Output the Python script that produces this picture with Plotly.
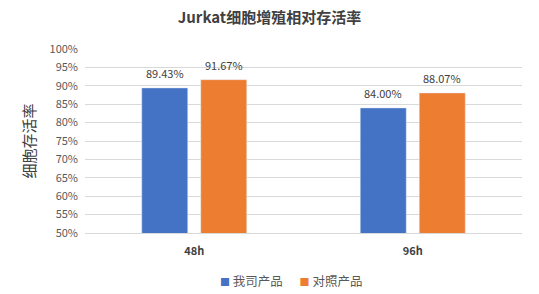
import plotly.graph_objects as go

categories = ["48h", "96h"]
series_names = ["我司产品", "对照产品"]
ours = [89.43, 84.00]
control = [91.67, 88.07]
colors = ["#4472C4", "#ED7D31"]
y_ticks = list(range(50, 101, 5))

font_family = "Noto Sans CJK SC, Noto Sans, sans-serif"

fig = go.Figure()
offsets = [-29.5, 29.5]
for name, vals, c, off in zip(series_names, [ours, control], colors, offsets):
    fig.add_trace(go.Bar(
        x=categories, y=vals, name=name, marker_color=c, showlegend=False,
    ))
    for cat, v in zip(categories, vals):
        fig.add_annotation(
            x=cat, y=v, xref="x", yref="y", text=f"{v:.2f}%", showarrow=False,
            xshift=off, yshift=15, yanchor="middle",
            font=dict(size=11, color="#404040", family=font_family),
        )

# compact legend as rich text
legend_text = "&nbsp;&nbsp;&nbsp;&nbsp;&nbsp;&nbsp;".join(
    f"<span style='color:{c}; font-size:10px'>■</span>&nbsp;{n}" for n, c in zip(series_names, colors)
)
fig.add_annotation(
    x=(291 - 85) / (522 - 85), y=(233 - 280) / (233 - 49), xref="paper", yref="paper",
    text=legend_text, showarrow=False, xanchor="center", yanchor="middle",
    font=dict(size=12.5, color="#595959", family=font_family),
)

fig.update_layout(
    width=539, height=294,
    margin=dict(l=85, r=17, t=49, b=61),
    paper_bgcolor="white", plot_bgcolor="white",
    barmode="group", bargap=0.46, bargroupgap=0.22,
    font=dict(family=font_family, color="#595959"),
    title=dict(text="<b>Jurkat细胞增殖相对存活率</b>", x=0.5, xanchor="center",
               y=0.94, yanchor="middle",
               font=dict(size=15, color="#404040", family=font_family)),
    showlegend=False,
)

fig.update_yaxes(
    range=[50, 100], tickvals=y_ticks, ticktext=[f"{t}%" for t in y_ticks],
    showgrid=True, gridcolor="#D9D9D9", gridwidth=1, zeroline=False,
    tickfont=dict(size=11, color="#595959"), ticks="", showline=False,
    ticklabelstandoff=6, automargin=False,
    title=dict(text="细胞存活率", font=dict(size=15, color="#404040"), standoff=10),
)
fig.update_xaxes(
    showline=True, linecolor="#D9D9D9", linewidth=1, ticks="",
    tickfont=dict(size=11, color="#404040"),
    tickvals=categories, ticktext=[f"<b>{c}</b>" for c in categories],
    ticklabelstandoff=8, automargin=False,
)

fig.write_html("out.html")
